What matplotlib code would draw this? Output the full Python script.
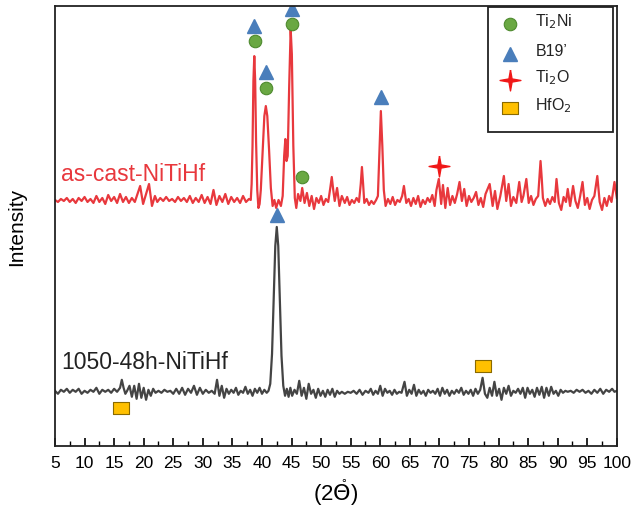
import matplotlib
matplotlib.use("Agg")
import matplotlib.pyplot as plt
from matplotlib.patches import Rectangle
from matplotlib.ticker import MultipleLocator

plt.rcParams['font.family'] = ['Liberation Sans', 'DejaVu Sans']

# as-cast trace, (2theta, intensity)
cast_x = [5.0, 5.5, 6.0, 6.5, 7.0, 7.5, 8.0, 8.5, 9.0, 9.5, 10.0, 10.5, 11.0, 11.5, 12.0, 12.5,
          13.0, 13.5, 14.0, 14.5, 15.0, 15.5, 16.0, 16.5, 17.0, 17.5, 18.0, 18.5, 19.4, 19.9,
          20.3, 20.9, 21.4, 21.9, 22.3, 22.8, 23.3, 23.8, 24.3, 24.8, 25.3, 25.8, 26.3, 26.8,
          27.3, 27.8, 28.3, 28.8, 29.3, 29.8, 30.3, 30.8, 31.3, 31.8, 32.3, 32.8, 33.3, 33.8,
          34.3, 34.8, 35.3, 35.8, 36.3, 36.8, 37.3, 37.8, 38.1, 38.25, 38.4, 38.55, 38.7, 38.85,
          39.0, 39.2, 39.4, 39.6, 39.8, 40.1, 40.4, 40.65, 40.9, 41.2, 41.5, 41.8, 42.1, 42.4,
          42.8, 43.2, 43.5, 43.75, 43.95, 44.15, 44.35, 44.6, 44.85, 45.05, 45.3, 45.55, 45.8,
          46.1, 46.5, 46.8, 47.2, 47.6, 48.0, 48.4, 48.8, 49.2, 49.6, 50.0, 50.4, 50.8, 51.2,
          51.55, 51.8, 52.05, 52.3, 52.7, 53.1, 53.5, 54.0, 54.4, 54.8, 55.2, 55.6, 56.0, 56.4,
          56.7, 56.9, 57.1, 57.3, 57.7, 58.1, 58.5, 58.9, 59.3, 59.6, 59.85, 60.1, 60.35, 60.6,
          60.9, 61.3, 61.7, 62.1, 62.5, 62.9, 63.3, 63.7, 64.0, 64.4, 64.8, 65.2, 65.6,
          66.0, 66.4, 66.8, 67.2, 67.6, 68.0, 68.4, 68.8, 69.2, 69.5, 69.9, 70.3, 70.6, 71.0,
          71.4, 71.8, 72.2, 72.6, 73.0, 73.4, 73.8, 74.2, 74.6, 75.0, 75.4, 75.8, 76.2, 76.6,
          77.0, 77.4, 77.8, 78.5, 79.0, 79.4, 79.8, 80.3, 80.9, 81.3, 81.7, 82.1, 82.5, 83.0,
          83.5, 83.9, 84.2, 84.7, 85.1, 85.5, 85.9, 86.3, 86.7, 86.9, 87.1, 87.3, 87.5, 87.9,
          88.3, 88.7, 89.1, 89.5, 89.8, 90.2, 90.6, 91.0, 91.4, 91.7, 92.1, 92.6, 93.0, 93.4,
          93.8, 94.2, 94.6, 95.0, 95.4, 95.8, 96.2, 96.7, 97.1, 97.5, 97.9, 98.3, 98.7, 99.1,
          99.6, 100.0]
cast_y = [246, 244, 247, 245, 248, 244, 247, 243, 248, 245, 249, 244, 247, 243, 250, 244,
          248, 242, 251, 245, 249, 243, 252, 244, 249, 243, 248, 244, 260, 242,
          250, 262, 240, 250, 244, 248, 245, 249, 245, 247, 244, 249, 245, 248,
          244, 250, 243, 248, 244, 251, 243, 249, 242, 256, 241, 250, 244, 252,
          242, 249, 244, 248, 243, 250, 244, 247, 246, 262, 300, 365, 390, 365,
          305, 256, 238, 242, 256, 292, 330, 340, 330, 296, 258, 240, 246, 238,
          246, 240, 250, 290, 307, 285, 290, 360, 417, 392, 300, 248, 238,
          252, 245, 258, 243, 253, 240, 250, 237, 248, 243, 250, 241, 247, 244,
          258, 269, 256, 245, 258, 240, 250, 243, 249, 241, 246, 243, 248, 244,
          262, 279, 262, 243, 247, 241, 245, 242, 246, 250, 292, 335, 300, 256,
          240, 247, 242, 249, 241, 246, 244, 250, 260, 243, 247, 240, 248,
          242, 250, 239, 246, 242, 248, 244, 251, 240, 256, 267, 242, 261, 238,
          258, 241, 250, 243, 252, 264, 245, 257, 240, 250, 244, 248, 254, 241,
          248, 239, 252, 262, 240, 255, 237, 250, 270, 245, 262, 240, 249, 243,
          264, 244, 250, 267, 243, 250, 241, 247, 250, 268, 285, 268, 248, 240,
          247, 242, 249, 244, 267, 243, 236, 249, 244, 257, 240, 260, 245, 238,
          250, 264, 241, 248, 237, 246, 250, 270, 244, 236, 248, 240, 250, 244,
          264, 248]

# 1050 C / 48 h trace
aged_x = [5.0, 5.5, 6.0, 6.5, 7.0, 7.5, 8.0, 8.5, 9.0, 9.5, 10.0, 10.5, 11.0, 11.5, 12.0, 12.5,
          13.0, 13.5, 14.0, 14.5, 15.0, 15.5, 16.0, 16.3, 16.6, 16.9, 17.2, 17.6, 18.0, 18.4,
          18.8, 19.2, 19.6, 20.0, 20.4, 20.8, 21.2, 21.6, 22.0, 22.5, 23.0, 23.5, 24.0, 24.5,
          25.0, 25.5, 26.0, 26.5, 27.0, 27.5, 28.0, 28.5, 29.0, 29.5, 30.0, 30.5, 31.0, 31.5,
          32.0, 32.4, 32.8, 33.2, 33.6, 34.0, 34.4, 34.8, 35.2, 35.6, 36.0, 36.4, 36.8, 37.2,
          37.6, 38.0, 38.4, 38.8, 39.2, 39.6, 40.0, 40.4, 40.8, 41.1, 41.4, 41.7, 42.0, 42.25,
          42.5, 42.75, 43.0, 43.3, 43.6, 43.9, 44.2, 44.5, 44.8, 45.1, 45.5, 45.9, 46.3, 46.7,
          47.1, 47.5, 47.9, 48.3, 48.7, 49.1, 49.5, 49.9, 50.3, 50.7, 51.1, 51.5, 51.9, 52.3,
          52.7, 53.1, 53.5, 54.0, 54.5, 55.0, 55.5, 56.0, 56.5, 57.0, 57.5, 58.0, 58.4, 58.8,
          59.2, 59.6, 60.0, 60.4, 60.8, 61.2, 61.6, 62.0, 62.4, 62.8, 63.2, 63.6, 64.1, 64.5,
          64.9, 65.3, 65.7, 66.1, 66.5, 66.9, 67.3, 67.7, 68.1, 68.5, 68.9, 69.3, 69.7, 70.1,
          70.5, 70.9, 71.3, 71.7, 72.1, 72.5, 72.9, 73.3, 73.7, 74.1, 74.5, 74.9, 75.3, 75.7,
          76.1, 76.5, 76.9, 77.3, 77.7, 78.1, 78.5, 78.9, 79.3, 79.7, 80.1, 80.5, 80.9, 81.3,
          81.7, 82.1, 82.5, 82.9, 83.3, 83.7, 84.1, 84.5, 84.9, 85.3, 85.7, 86.1, 86.5, 86.9,
          87.3, 87.7, 88.1, 88.5, 88.9, 89.3, 89.7, 90.1, 90.5, 90.9, 91.3, 91.7, 92.2, 92.7,
          93.2, 93.7, 94.2, 94.7, 95.2, 95.7, 96.2, 96.7, 97.2, 97.7, 98.2, 98.7, 99.2, 99.6,
          100.0]
aged_y = [55, 52, 56, 54, 57, 53, 56, 54, 57, 52, 55, 53, 56, 54, 58, 52,
          56, 54, 56, 53, 57, 54, 58, 66, 58, 52, 55, 60, 49, 60,
          47, 62, 48, 58, 46, 56, 50, 57, 53, 55, 53, 56, 54, 55,
          52, 57, 52, 58, 51, 57, 53, 60, 51, 58, 52, 56, 53, 55,
          52, 66, 50, 60, 48, 57, 52, 56, 53, 58, 51, 55, 53, 59,
          52, 56, 50, 57, 53, 58, 52, 56, 53, 55, 62, 92, 150, 200,
          219, 200, 150, 90, 60, 50, 57, 49, 58, 50, 56, 52, 65, 50,
          58, 47, 62, 52, 56, 48, 57, 50, 55, 49, 56, 51, 57, 49,
          55, 52, 54, 52, 54, 53, 55, 52, 56, 51, 55, 53, 57, 51,
          55, 52, 60, 50, 57, 53, 55, 51, 56, 52, 54, 53, 64, 50,
          56, 52, 61, 50, 56, 52, 55, 50, 56, 53, 55, 52, 57, 50,
          58, 52, 56, 50, 55, 52, 56, 53, 58, 51, 55, 52, 56, 50,
          57, 52, 56, 68, 52, 48, 58, 50, 64, 50, 57, 46, 58, 52,
          60, 50, 55, 53, 57, 52, 58, 48, 58, 52, 56, 49, 58, 51,
          59, 48, 58, 50, 59, 52, 55, 50, 56, 53, 55, 54, 55, 53,
          56, 54, 56, 53, 55, 52, 56, 53, 57, 52, 56, 54, 57, 54,
          55]

# phase markers (2theta, intensity)
b19_x = [38.6, 40.6, 45.0, 60.1, 42.5]
b19_y = [420, 374, 437, 349, 231]
ti2ni_x = [38.8, 40.7, 45.0, 46.7]
ti2ni_y = [405, 358, 422, 269]
ti2o_x = [70.0]
ti2o_y = [280]
hfo2_x = [77.3, 16.2]
hfo2_y = [80, 38]

red = '#E8383D'
dark = '#444444'
blue = '#4A7EBB'
green = '#6AA843'
gold = '#FFC000'

star = [(0, 1), (0.15, 0.15), (1, 0), (0.15, -0.15), (0, -1), (-0.15, -0.15), (-1, 0), (-0.15, 0.15), (0, 1)]
rect = [(-1.3, -0.9), (1.3, -0.9), (1.3, 0.9), (-1.3, 0.9), (-1.3, -0.9)]

fig = plt.figure(figsize=(6.32, 5.10), dpi=100)
ax = fig.add_axes([0.087, 0.124, 0.889, 0.862])

ax.plot(cast_x, cast_y, color=red, lw=1.6, solid_joinstyle='round')
ax.plot(aged_x, aged_y, color=dark, lw=1.6, solid_joinstyle='round')

ax.plot(b19_x, b19_y, ls='none', marker='^', ms=10, color=blue, mec=blue)
ax.plot(ti2ni_x, ti2ni_y, ls='none', marker='o', ms=9, color=green, mec='#4E8A2E', mew=0.8)
ax.plot(ti2o_x, ti2o_y, ls='none', marker=star, ms=15, color='#F01818', mec='#F01818')
ax.plot(hfo2_x, hfo2_y, ls='none', marker=rect, ms=12, color=gold, mec='#8A6A00', mew=0.8)

ax.text(6.0, 272, 'as-cast-NiTiHf', color=red, fontsize=16.5, va='center', ha='left')
ax.text(6.0, 84, '1050-48h-NiTiHf', color='#222222', fontsize=16.5, va='center', ha='left')

# legend box drawn in axes coordinates
ax.add_patch(Rectangle((0.771, 0.714), 0.222, 0.284, transform=ax.transAxes,
                       fill=False, ec='#222222', lw=1.3, zorder=5))
leg_rows = [0.959, 0.891, 0.832, 0.768]
leg_marks = [dict(marker='o', ms=9, color=green, mec='#4E8A2E', mew=0.8),
             dict(marker='^', ms=10, color=blue, mec=blue),
             dict(marker=star, ms=15, color='#F01818', mec='#F01818'),
             dict(marker=rect, ms=12, color=gold, mec='#8A6A00', mew=0.8)]
leg_labels = ['Ti$_2$Ni', 'B19\u2019', 'Ti$_2$O', 'HfO$_2$']
for yy, mk, lb in zip(leg_rows, leg_marks, leg_labels):
    ax.plot([0.809], [yy], transform=ax.transAxes, ls='none', clip_on=False, zorder=6, **mk)
    ax.text(0.855, yy + 0.008, lb, transform=ax.transAxes, fontsize=11.5, va='center', ha='left',
            color='#222222', zorder=6)

ax.set_xlim(5, 100)
ax.set_ylim(0, 440)
ax.xaxis.set_major_locator(MultipleLocator(5))
ax.xaxis.set_minor_locator(MultipleLocator(2.5))
ax.tick_params(axis='x', which='major', direction='in', length=6, width=1.2, labelsize=12.5, pad=7)
ax.tick_params(axis='x', which='minor', direction='in', length=3.5, width=1.0)
ax.set_yticks([])
for s in ax.spines.values():
    s.set_linewidth(1.3)
    s.set_color('#222222')

ax.set_ylabel('Intensity', fontsize=15, labelpad=21)
ax.set_xlabel('(2$\\mathring{\\Theta}$)', fontsize=16, labelpad=4)

fig.savefig('out.png', dpi=100)
